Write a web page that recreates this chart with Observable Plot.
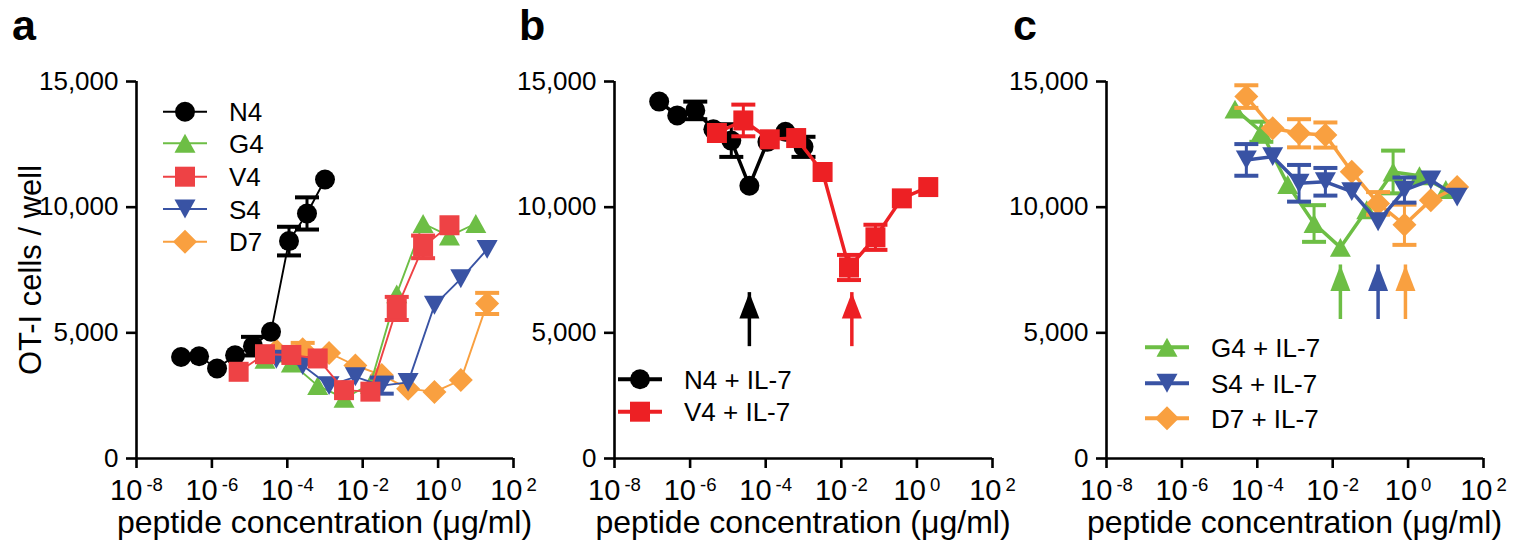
<!DOCTYPE html>
<html><head><meta charset="utf-8">
<script src="https://cdn.jsdelivr.net/npm/d3@7"></script>
<script src="https://cdn.jsdelivr.net/npm/@observablehq/plot@0.6"></script>
<style>
html,body{margin:0;padding:0;background:#fff;}
#root{position:relative;width:1528px;height:548px;overflow:hidden;font-family:"Liberation Sans",Arial,Helvetica,sans-serif;}
</style></head><body><div id="root"></div>
<script>
// ---------- axes ----------
const xTicks = [1e-8, 1e-6, 1e-4, 1e-2, 1e0, 1e2];
const yTicks = [0, 5000, 10000, 15000];
const xTitle = "peptide concentration (\u03bcg/ml)";
const yTitle = "OT-I cells / well";
const panelLetters = ["a", "b", "c"];

// ---------- concentrations (μg/ml) ----------
const conc3 = [1.52e-7, 4.57e-7, 1.37e-6, 4.12e-6, 1.23e-5, 3.7e-5, 1.11e-4, 3.33e-4, 1e-3];
const conc5a = [5.12e-6, 2.56e-5, 1.28e-4, 6.4e-4, 3.2e-3, 0.016, 0.08, 0.4, 2];
const conc5b = [2.56e-5, 1.28e-4, 6.4e-4, 3.2e-3, 0.016, 0.08, 0.4, 2, 10];
const conc5c = [5.12e-5, 2.56e-4, 1.28e-3, 6.4e-3, 0.032, 0.16, 0.8, 4, 20];

// ---------- panel a ----------
const aNames = ["N4", "G4", "V4", "S4", "D7"];
const aN4 = [4040, 4070, 3580, 4110, 4470, 5040, 8650, 9750, 11100];
const aN4Err = [0, 0, 0, 0, 370, 0, 570, 640, 0];
const aG4 = [3950, 3800, 2900, 2400, 2950, 6550, 9350, 8850, 9350];
const aG4Err = [0, 0, 0, 0, 0, 0, 0, 0, 0];
const aV4 = [3450, 4150, 4120, 3980, 2720, 2660, 5970, 8420, 9280];
const aV4Err = [0, 0, 0, 0, 0, 0, 460, 450, 0];
const aS4 = [3950, 3700, 2900, 3250, 2900, 3030, 6100, 7150, 8320];
const aS4Err = [0, 0, 0, 0, 320, 0, 0, 0, 0];
const aD7 = [4300, 4350, 4200, 3700, 3320, 2780, 2650, 3120, 6170];
const aD7Err = [0, 250, 0, 0, 0, 0, 0, 0, 420];

// ---------- panel b ----------
const bNames = ["N4 + IL-7", "V4 + IL-7"];
const bN4 = [14200, 13650, 13850, 13100, 12650, 10850, 12600, 13000, 12400];
const bN4Err = [0, 0, 350, 0, 650, 0, 0, 0, 400];
const bV4 = [12950, 13450, 12700, 12750, 11400, 7600, 8800, 10350, 10800];
const bV4Err = [0, 630, 0, 0, 0, 500, 500, 0, 0];
const bArrowConc = [3.7e-5, 0.019];
const bArrowTip = 6600, bArrowTail = 4450;

// ---------- panel c ----------
const cNames = ["G4 + IL-7", "S4 + IL-7", "D7 + IL-7"];
const cG4 = [13900, 13000, 10900, 9350, 8400, 9900, 11400, 11250, 10700];
const cG4Err = [0, 400, 0, 730, 0, 0, 850, 0, 0];
const cS4 = [11880, 12010, 10950, 11010, 10620, 9420, 10680, 11080, 10400];
const cS4Err = [630, 0, 730, 550, 0, 0, 500, 0, 0];
const cD7 = [14400, 13140, 12940, 12870, 11410, 10150, 9300, 10280, 10800];
const cD7Err = [450, 0, 560, 500, 0, 450, 800, 0, 0];
const cArrowConc = [0.016, 0.16, 0.85];
const cArrowTip = 7700, cArrowTail = 5530;

// ---------- colours ----------
const BLACK = "#000000", GREEN = "#6DBE45", RED_A = "#EE4245", RED_B = "#ED2024", BLUE = "#3953A4", ORANGE = "#F9A040";

// ---------- symbols ----------
const sym = f => ({draw(ctx, size) { const r = Math.sqrt(size / Math.PI); f(ctx, r); }});
const symCircle = sym((c, r) => { c.moveTo(r, 0); c.arc(0, 0, r, 0, 2 * Math.PI); c.closePath(); });
const symSquare = sym((c, r) => { c.moveTo(-r, -r); c.lineTo(r, -r); c.lineTo(r, r); c.lineTo(-r, r); c.closePath(); });
const symTriUp = sym((c, r) => { const h = r * 0.9; c.moveTo(0, -h); c.lineTo(r, h); c.lineTo(-r, h); c.closePath(); });
const symTriDown = sym((c, r) => { const h = r * 0.9; c.moveTo(0, h); c.lineTo(r, -h); c.lineTo(-r, -h); c.closePath(); });
const symDiamond = sym((c, r) => { c.moveTo(0, -r); c.lineTo(r, 0); c.lineTo(0, r); c.lineTo(-r, 0); c.closePath(); });
const symCap = sym((c, r) => { c.moveTo(-r, -2); c.lineTo(r, -2); c.lineTo(r, 2); c.lineTo(-r, 2); c.closePath(); });
const symHead = sym((c, r) => { c.moveTo(0, 0); c.lineTo(r, 2.6 * r); c.lineTo(-r, 2.6 * r); c.closePath(); });

const mk = (name, conc, val, err, color, symbol, r) => ({name, conc, val, err, color, symbol, r});
const seriesA = [
  mk(aNames[0], conc3, aN4, aN4Err, BLACK, symCircle, 10),
  mk(aNames[1], conc5b, aG4, aG4Err, GREEN, symTriUp, 10.5),
  mk(aNames[2], conc5a, aV4, aV4Err, RED_A, symSquare, 10),
  mk(aNames[3], conc5c, aS4, aS4Err, BLUE, symTriDown, 10.5),
  mk(aNames[4], conc5c, aD7, aD7Err, ORANGE, symDiamond, 12)
];
const drawOrderA = [4, 1, 3, 0, 2];
const seriesB = [
  mk(bNames[0], conc3, bN4, bN4Err, BLACK, symCircle, 10),
  mk(bNames[1], conc5a, bV4, bV4Err, RED_B, symSquare, 10)
];
const drawOrderB = [0, 1];
const seriesC = [
  mk(cNames[0], conc5b, cG4, cG4Err, GREEN, symTriUp, 10.5),
  mk(cNames[1], conc5c, cS4, cS4Err, BLUE, symTriDown, 10.5),
  mk(cNames[2], conc5c, cD7, cD7Err, ORANGE, symDiamond, 12)
];
const drawOrderC = [0, 2, 1];

function seriesMarks(s, lw) {
  const rows = s.conc.map((c, i) => ({c, v: s.val[i], e: s.err[i]}));
  const eb = rows.filter(d => d.e > 0);
  return [
    Plot.line(rows, {x: "c", y: "v", stroke: s.color, strokeWidth: lw}),
    Plot.ruleX(eb, {x: "c", y1: d => d.v - d.e, y2: d => d.v + d.e, stroke: s.color, strokeWidth: 3}),
    Plot.dot(eb, {x: "c", y: d => d.v + d.e, symbol: symCap, r: 12, fill: s.color, stroke: "none"}),
    Plot.dot(eb, {x: "c", y: d => d.v - d.e, symbol: symCap, r: 12, fill: s.color, stroke: "none"}),
    Plot.dot(rows, {x: "c", y: "v", symbol: s.symbol, r: s.r, fill: s.color, stroke: "none"})
  ];
}
function arrowMarks(conc, colors, tip, tail) {
  const rows = conc.map((c, i) => ({c, color: colors[i], tip, tail}));
  return [
    Plot.ruleX(rows, {x: "c", y1: "tail", y2: "tip", stroke: d => d.color, strokeWidth: 3.5}),
    Plot.dot(rows, {x: "c", y: "tip", symbol: symHead, r: 10, fill: d => d.color, stroke: "none"})
  ];
}

function panel({left, width, marginLeft, marginRight, series, order, lw, extra = []}) {
  const marks = [
    Plot.ruleX([xTicks[0]], {stroke: "#000", strokeWidth: 2.6}),
    Plot.ruleY([0], {stroke: "#000", strokeWidth: 2.6}),
    Plot.axisX({ticks: xTicks, tickFormat: d => "10^" + Math.round(Math.log10(d)), tickSize: 10, tickPadding: 11, strokeWidth: 2.6, fontSize: 29, label: null}),
    Plot.axisY({ticks: yTicks, tickFormat: d3.format(","), tickSize: 10, tickPadding: 8, strokeWidth: 2.6, fontSize: 26, label: null})
  ];
  for (const i of order) marks.push(...seriesMarks(series[i], lw));
  marks.push(...extra);
  const svg = Plot.plot({
    width, height: 548, marginLeft, marginRight, marginTop: 81, marginBottom: 90,
    style: {fontFamily: '"Liberation Sans", Arial, Helvetica, sans-serif', color: "#000", background: "transparent", overflow: "visible"},
    x: {type: "log", domain: [xTicks[0], xTicks[xTicks.length - 1]]},
    y: {domain: [yTicks[0], yTicks[yTicks.length - 1]]},
    color: {type: "identity"},
    marks
  });
  svg.style.position = "absolute";
  svg.style.left = left + "px";
  svg.style.top = "0px";
  svg.querySelectorAll('[aria-label^="x-axis tick label"] text').forEach(t => {
    const [b, e] = t.textContent.split("^");
    if (e === undefined) return;
    t.textContent = "";
    const ns = "http://www.w3.org/2000/svg";
    const t1 = document.createElementNS(ns, "tspan"); t1.textContent = b; t.appendChild(t1);
    const t2 = document.createElementNS(ns, "tspan"); t2.textContent = e;
    t2.setAttribute("dx", "0.22em"); t2.setAttribute("dy", "-0.5em"); t2.setAttribute("font-size", "0.64em");
    t.appendChild(t2);
  });
  return svg;
}

const root = document.getElementById("root");
root.appendChild(panel({left: 0, width: 530, marginLeft: 136, marginRight: 17, series: seriesA, order: drawOrderA, lw: 1.9}));
root.appendChild(panel({left: 510, width: 520, marginLeft: 104, marginRight: 38, series: seriesB, order: drawOrderB, lw: 3.5,
  extra: arrowMarks(bArrowConc, [BLACK, RED_B], bArrowTip, bArrowTail)}));
root.appendChild(panel({left: 1010, width: 518, marginLeft: 96, marginRight: 45, series: seriesC, order: drawOrderC, lw: 3.5,
  extra: arrowMarks(cArrowConc, [GREEN, BLUE, ORANGE], cArrowTip, cArrowTail)}));

// ---------- overlay: panel letters, titles, legends ----------
const ov = d3.select(root).append("svg")
  .attr("width", 1528).attr("height", 548)
  .style("position", "absolute").style("left", "0px").style("top", "0px")
  .attr("font-family", '"Liberation Sans", Arial, Helvetica, sans-serif');

const letterX = [12, 519, 1013];
panelLetters.forEach((l, i) => ov.append("text").attr("x", letterX[i]).attr("y", 39.5)
  .attr("font-size", 43).attr("font-weight", "bold").text(l));

ov.append("text").attr("transform", "translate(41,270) rotate(-90)").attr("text-anchor", "middle")
  .attr("font-size", 31).text(yTitle);
[324.5, 803, 1294.5].forEach(cx => ov.append("text").attr("x", cx).attr("y", 533)
  .attr("text-anchor", "middle").attr("font-size", 32).text(xTitle));

function legend(series, x0, rowsY, lw) {
  series.forEach((s, i) => {
    const y = rowsY[i];
    ov.append("line").attr("x1", x0).attr("x2", x0 + 44).attr("y1", y).attr("y2", y)
      .attr("stroke", s.color).attr("stroke-width", lw);
    ov.append("path").attr("transform", `translate(${x0 + 22},${y})`)
      .attr("d", d3.symbol(s.symbol, Math.PI * s.r * s.r)()).attr("fill", s.color);
    ov.append("text").attr("x", x0 + 66).attr("y", y + 9.5).attr("font-size", 26).text(s.name);
  });
}
legend(seriesA, 163, [111.7, 143.3, 176.7, 209, 241.7], 2);
legend(seriesB, 618, [379.3, 411.7], 4);
legend(seriesC, 1145, [347.3, 383.3, 418.3], 4);
</script></body></html>
